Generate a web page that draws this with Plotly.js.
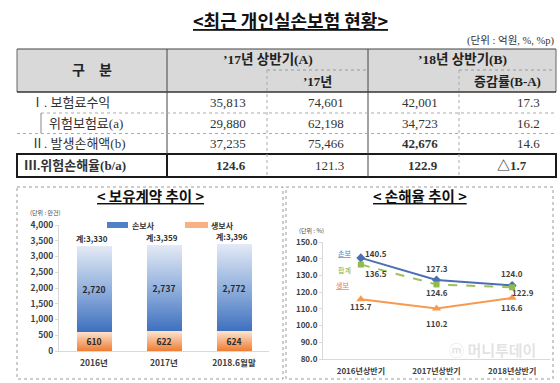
<!DOCTYPE html>
<html><head><meta charset="utf-8">
<script src="https://cdn.plot.ly/plotly-3.0.1.min.js"></script>
<style>html,body{margin:0;padding:0;background:#fff}</style>
</head><body><div id="chart" style="width:560px;height:383px"></div>
<script>
// ---------- table data ----------
const tableRowLabels = ['Ⅰ. 보험료수익', '위험보험료(a)', 'Ⅱ. 발생손해액(b)', 'Ⅲ.위험손해율(b/a)'];
const table17H1   = ['35,813', '29,880', '37,235', '124.6'];
const table17Year = ['74,601', '62,198', '75,466', '121.3'];
const table18H1   = ['42,001', '34,723', '42,676', '122.9'];
const tableChange = ['17.3', '16.2', '14.6', '△1.7'];
const headerGroup = ['구　분', '’17년 상반기(A)', '’18년 상반기(B)'];
const headerSub   = ['’17년', '증감률(B-A)'];
const unitText = '(단위 : 억원, %, %p)';
const mainTitle = '<최근 개인실손보험 현황>';

// ---------- left chart data ----------
const contractYears = ['2016년', '2017년', '2018.6월말'];
const nonLifeContracts = [2720, 2737, 2772];
const lifeContracts = [610, 622, 624];
const contractTotals = [3330, 3359, 3396];

// ---------- right chart data ----------
const lossPeriods = ['2016년상반기', '2017년상반기', '2018년상반기'];
const nonLifeLoss = [140.5, 127.3, 124.0];
const totalLoss = [136.5, 124.6, 122.9];
const lifeLoss = [115.7, 110.2, 116.6];

// ---------- helpers ----------
const W = 560, H = 383;
const px = x => x / W;
const py = y => 1 - y / H;
const SANS = "'Noto Sans CJK KR', 'Noto Sans', sans-serif";
const SERIF = "'Liberation Serif', 'Noto Sans CJK KR', serif";
const fmt = n => n.toLocaleString('en-US');

const shapes = [];
const annotations = [];
function line(x0, y0, x1, y1, color, width, dash) {
  shapes.push({type: 'line', xref: 'paper', yref: 'paper', x0: px(x0), y0: py(y0), x1: px(x1), y1: py(y1),
    line: {color: color, width: width, dash: dash || 'solid'}});
}
function rect(x0, y0, x1, y1, fill, lineColor, width, dash) {
  shapes.push({type: 'rect', xref: 'paper', yref: 'paper', x0: px(x0), y0: py(y0), x1: px(x1), y1: py(y1),
    fillcolor: fill, line: {color: lineColor, width: width, dash: dash || 'solid'}, layer: 'below'});
}
function text(t, x, y, size, opts) {
  opts = opts || {};
  annotations.push({xref: 'paper', yref: 'paper', x: px(x), y: py(y), text: t, showarrow: false,
    xanchor: opts.xanchor || 'center', yanchor: 'middle',
    font: {family: opts.family || SANS, size: size, color: opts.color || '#222', weight: opts.bold ? 'bold' : 'normal'}});
}

// ---------- titles ----------
text('<u>' + mainTitle + '</u>', 290, 20, 18, {bold: true, color: '#111'});
text(unitText, 557, 41, 10.5, {xanchor: 'right', family: SERIF, color: '#333'});

// ---------- table geometry ----------
const colX = [17, 167, 267, 368, 459, 556];
const headTop = 49, headMid = 70, headBot = 92;
const rowEdges = [92, 113, 133.5, 154, 177];
rect(colX[0], headTop, colX[5], headBot, '#d9d9d9', 'rgba(0,0,0,0)', 0);
line(colX[0], headTop, colX[5], headTop, '#444', 1.2);
line(colX[0], headTop, colX[0], headBot, '#666', 1);
line(colX[5], headTop, colX[5], headBot, '#666', 1);
line(colX[0], headBot, colX[5], headBot, '#333', 1.5);
line(colX[2], headMid, colX[3], headMid, '#999', 1, 'dot');
line(colX[4], headMid, colX[5], headMid, '#999', 1, 'dot');
line(colX[1], headTop, colX[1], rowEdges[4], '#444', 1);
line(colX[3], headTop, colX[3], rowEdges[4], '#444', 1);
line(colX[2], headMid, colX[2], rowEdges[3], '#aaa', 1, 'dot');
line(colX[4], headMid, colX[4], rowEdges[3], '#aaa', 1, 'dot');
line(colX[2], rowEdges[3], colX[2], rowEdges[4], '#aaa', 1, 'dot');
line(colX[4], rowEdges[3], colX[4], rowEdges[4], '#aaa', 1, 'dot');
line(41, rowEdges[1], colX[5], rowEdges[1], '#aaa', 1, 'dot');
line(41, rowEdges[1], 41, rowEdges[2], '#888', 1);
line(colX[0], rowEdges[2], colX[5], rowEdges[2], '#aaa', 1, 'dot');
rect(colX[0], rowEdges[3], colX[5], rowEdges[4], 'rgba(0,0,0,0)', '#1a1a1a', 2);
line(colX[1], rowEdges[3], colX[1], rowEdges[4], '#1a1a1a', 2);

// header texts
text(headerGroup[0], (colX[0] + colX[1]) / 2, (headTop + headBot) / 2, 14, {bold: true, family: SERIF});
text(headerGroup[1], (colX[1] + colX[3]) / 2, (headTop + headMid) / 2, 13.5, {bold: true, family: SERIF});
text(headerGroup[2], (colX[3] + colX[5]) / 2, (headTop + headMid) / 2, 13.5, {bold: true, family: SERIF});
text(headerSub[0], (colX[2] + colX[3]) / 2, (headMid + headBot) / 2, 13, {bold: true, family: SERIF});
text(headerSub[1], (colX[4] + colX[5]) / 2, (headMid + headBot) / 2, 13, {bold: true, family: SERIF});

// body
const labelX = [29, 47, 29, 22];
const numRight = [248, 346, 440, 542];
const cols = [table17H1, table17Year, table18H1, tableChange];
for (let r = 0; r < tableRowLabels.length; r++) {
  const cy = (rowEdges[r] + rowEdges[r + 1]) / 2;
  text(tableRowLabels[r], labelX[r], cy, 13, {xanchor: 'left', family: SERIF, bold: r === 3, color: '#333'});
  for (let c = 0; c < cols.length; c++) {
    const bold = (r === 3 && c !== 1) || (r === 2 && c === 2);
    let xr = numRight[c];
    if (r === 3 && c === 3) xr = 529;
    text(cols[c][r], xr, cy, 13, {xanchor: 'right', family: SERIF, bold: bold, color: '#333'});
  }
}

// ---------- panels ----------
rect(17, 187, 283, 379, 'rgba(0,0,0,0)', '#9a9a9a', 1, 'dot');
rect(286, 187, 553, 379, 'rgba(0,0,0,0)', '#9a9a9a', 1, 'dot');
text('<u>< 보유계약 추이 ></u>', 150, 195, 14.5, {bold: true, color: '#111'});
text('<u>< 손해율 추이 ></u>', 420, 195, 14.5, {bold: true, color: '#111'});
text('(단위 : 만건)', 45, 212, 6, {color: '#444'});
text('(단위 : %)', 311, 230, 6, {color: '#444'});

// legend for left chart
rect(107, 222, 128, 228, '#4f81c7', 'rgba(0,0,0,0)', 0);
text('손보사', 130, 225, 8, {xanchor: 'left', bold: true, color: '#333'});
rect(185, 222, 208, 228, '#f7b183', 'rgba(0,0,0,0)', 0);
text('생보사', 209, 225, 8, {xanchor: 'left', bold: true, color: '#333'});

// totals above bars
for (let i = 0; i < contractYears.length; i++) {
  annotations.push({xref: 'x', yref: 'y', x: contractYears[i], y: contractTotals[i], text: '계:' + fmt(contractTotals[i]),
    showarrow: false, yanchor: 'bottom', xshift: -2, yshift: 0,
    font: {family: SANS, size: 8, color: '#333', weight: 'bold'}});
}

// loss labels
const lblFont = {family: SANS, size: 8, color: '#404040', weight: 'bold'};
function lossLabels(vals, offs) {
  for (let i = 0; i < vals.length; i++) {
    annotations.push({xref: 'x2', yref: 'y2', x: lossPeriods[i], y: vals[i], text: vals[i].toFixed(1),
      showarrow: false, xshift: offs[i][0], yshift: -offs[i][1], font: lblFont});
  }
}
lossLabels(nonLifeLoss, [[15, -4], [0, -11], [0, -11.5]]);
lossLabels(totalLoss, [[15, 9], [0, 8.5], [11, 5]]);
lossLabels(lifeLoss, [[0, 7], [0, 15], [0, 10]]);
const nameFont = (c) => ({family: SANS, size: 7, color: c});
annotations.push({xref: 'x2', yref: 'y2', x: lossPeriods[0], y: nonLifeLoss[0], text: '<u>손보</u>', showarrow: false, xshift: -16, yshift: 5, font: nameFont('#5a7fc0')});
annotations.push({xref: 'x2', yref: 'y2', x: lossPeriods[0], y: totalLoss[0], text: '합계', showarrow: false, xshift: -16, yshift: -5, font: nameFont('#7fae3f')});
annotations.push({xref: 'x2', yref: 'y2', x: lossPeriods[0], y: lifeLoss[0], text: '<u>생보</u>', showarrow: false, xshift: -18, yshift: 14, font: nameFont('#e8812f')});

// watermark (kept clear of the axis labels)
text('ⓜ 머니투데이', 492, 349, 15, {color: 'rgba(140,140,140,0.25)', bold: true});

// ---------- traces ----------
const barText = {family: SANS, size: 8.5, color: '#2a2a2a', weight: 'bold'};
const data = [
  {type: 'bar', name: '생보사', x: contractYears, y: lifeContracts, text: lifeContracts.map(fmt),
   textposition: 'inside', insidetextanchor: 'middle', textfont: barText, marker: {color: '#f4a46a'},
   xaxis: 'x', yaxis: 'y', hoverinfo: 'skip'},
  {type: 'bar', name: '손보사', x: contractYears, y: nonLifeContracts, text: nonLifeContracts.map(fmt),
   textposition: 'inside', insidetextanchor: 'middle', textfont: barText, marker: {color: '#7fa2d8'},
   xaxis: 'x', yaxis: 'y', hoverinfo: 'skip'},
  {type: 'scatter', mode: 'lines+markers', name: '손보', x: lossPeriods, y: nonLifeLoss,
   line: {color: '#4a6fb5', width: 2}, marker: {symbol: 'diamond', size: 7, color: '#4a6fb5'}, xaxis: 'x2', yaxis: 'y2'},
  {type: 'scatter', mode: 'lines+markers', name: '합계', x: lossPeriods, y: totalLoss,
   line: {color: '#9bc25a', width: 2, dash: 'dash'}, marker: {symbol: 'square', size: 6, color: '#8dbb4c'}, xaxis: 'x2', yaxis: 'y2'},
  {type: 'scatter', mode: 'lines+markers', name: '생보', x: lossPeriods, y: lifeLoss,
   line: {color: '#f79a50', width: 2}, marker: {symbol: 'triangle-up', size: 8, color: '#f79a50'}, xaxis: 'x2', yaxis: 'y2'}
];

const tickFont = {family: SANS, size: 8.5, color: '#404040', weight: 'bold'};
const layout = {
  width: W, height: H, margin: {l: 0, r: 0, t: 0, b: 0},
  paper_bgcolor: '#fff', plot_bgcolor: 'rgba(0,0,0,0)', showlegend: false,
  barmode: 'stack', bargap: 0.5,
  xaxis: {domain: [px(59), px(269)], type: 'category', range: [-0.5, 2.5], showline: true, linecolor: '#d9d9d9',
    ticks: '', tickfont: tickFont, ticklabelstandoff: 4, showgrid: false, zeroline: false, fixedrange: true},
  yaxis: {domain: [py(351), py(225)], range: [0, 4000], dtick: 500, tickformat: ',d', showline: true, linecolor: '#d9d9d9',
    ticks: 'outside', ticklen: 3, tickcolor: '#d9d9d9', tickfont: tickFont, showgrid: false, zeroline: false, fixedrange: true},
  xaxis2: {domain: [px(323), px(550)], anchor: 'y2', type: 'category', range: [-0.5, 2.5], showline: true, linecolor: '#d9d9d9',
    ticks: '', tickfont: {family: SANS, size: 8, color: '#404040', weight: 'bold'}, ticklabelstandoff: 4, showgrid: false, zeroline: false},
  yaxis2: {domain: [py(359), py(242)], anchor: 'x2', range: [80, 150], dtick: 10, tickformat: '.1f', showline: true, linecolor: '#d9d9d9',
    ticks: 'outside', ticklen: 3, tickcolor: '#d9d9d9', tickfont: {family: SANS, size: 8, color: '#404040', weight: 'bold'},
    showgrid: false, zeroline: false},
  shapes: shapes, annotations: annotations
};

Plotly.newPlot('chart', data, layout, {staticPlot: true, displayModeBar: false}).then(function (gd) {
  const ns = 'http://www.w3.org/2000/svg';
  const svg = gd.querySelector('svg.main-svg');
  let defs = svg.querySelector('defs');
  if (!defs) { defs = document.createElementNS(ns, 'defs'); svg.insertBefore(defs, svg.firstChild); }
  function addGrad(id, stops) {
    const g = document.createElementNS(ns, 'linearGradient');
    g.setAttribute('id', id); g.setAttribute('x1', '0'); g.setAttribute('y1', '0'); g.setAttribute('x2', '0'); g.setAttribute('y2', '1');
    stops.forEach(function (s) {
      const st = document.createElementNS(ns, 'stop');
      st.setAttribute('offset', s[0]); st.setAttribute('stop-color', s[1]);
      g.appendChild(st);
    });
    defs.appendChild(g);
  }
  addGrad('gradOrange', [['0', '#fde3cf'], ['1', '#ee7d32']]);
  addGrad('gradBlue', [['0', '#e3eaf5'], ['0.5', '#93b1dd'], ['1', '#3e70bf']]);
  const traces = gd.querySelectorAll('.barlayer .trace');
  if (traces.length >= 2) {
    traces[0].querySelectorAll('path').forEach(function (p) { p.style.fill = 'url(#gradOrange)'; });
    traces[1].querySelectorAll('path').forEach(function (p) { p.style.fill = 'url(#gradBlue)'; });
  }
});
</script>
</body></html>
